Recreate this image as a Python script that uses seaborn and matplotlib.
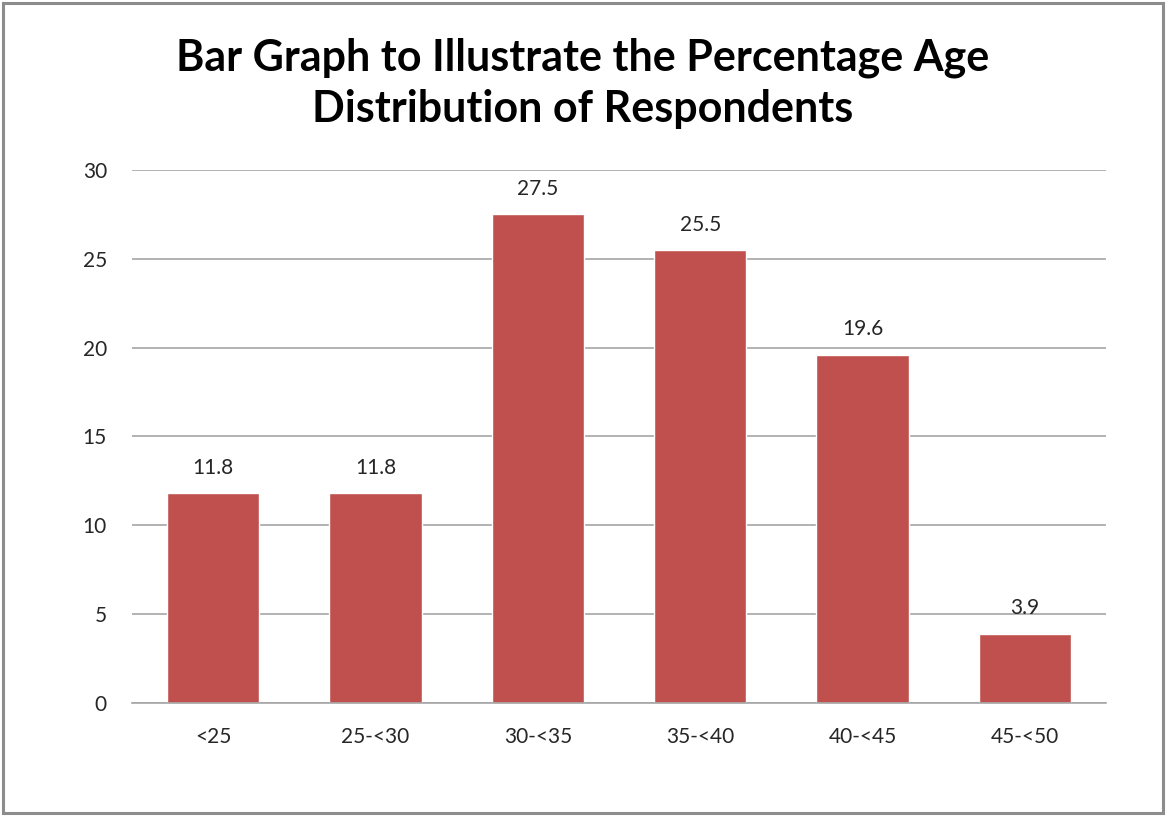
import matplotlib
matplotlib.use("Agg")
import matplotlib.pyplot as plt
import seaborn as sns
import pandas as pd
from matplotlib.patches import Rectangle

age_groups = ["<25", "25-<30", "30-<35", "35-<40", "40-<45", "45-<50"]
percentages = [11.8, 11.8, 27.5, 25.5, 19.6, 3.9]
y_ticks = [0, 5, 10, 15, 20, 25, 30]

sns.set_theme(style="white")
plt.rcParams["font.family"] = ["Lato", "DejaVu Sans"]

df = pd.DataFrame({"age": age_groups, "pct": percentages})

fig = plt.figure(figsize=(11.66, 8.16), dpi=100)
ax = fig.add_axes([0.1132, 0.1385, 0.8353, 0.6532])

sns.barplot(data=df, x="age", y="pct", order=age_groups, color="#C0504D",
            saturation=1, width=0.57, ax=ax)

ax.set_ylim(0, 30)
ax.set_xlim(-0.5, len(age_groups) - 0.5)
ax.set_yticks(y_ticks)
ax.set_yticklabels([str(t) for t in y_ticks])
ax.set_xlabel("")
ax.set_ylabel("")
ax.yaxis.grid(True, color="#A6A6A6", linewidth=1.2)
ax.set_axisbelow(True)
for side in ["left", "right", "top"]:
    ax.spines[side].set_visible(False)
ax.spines["bottom"].set_color("#A6A6A6")
ax.spines["bottom"].set_linewidth(1.2)
ax.tick_params(axis="both", length=0, labelsize=15, colors="#262626")
ax.tick_params(axis="y", pad=18)
ax.tick_params(axis="x", pad=17)

for container in ax.containers:
    ax.bar_label(container, labels=[f"{v:.1f}" for v in percentages],
                 padding=11, fontsize=15, color="#262626")

fig.text(0.5, 0.898, "Bar Graph to Illustrate the Percentage Age\nDistribution of Respondents",
         ha="center", va="center", fontsize=31, fontweight="bold",
         color="#000000", linespacing=1.32)

fig.patches.append(Rectangle((0.003, 0.004), 0.994, 0.992, transform=fig.transFigure,
                             fill=False, edgecolor="#8C8C8C", linewidth=2.2))

fig.savefig("out.png", dpi=100, facecolor="white")
